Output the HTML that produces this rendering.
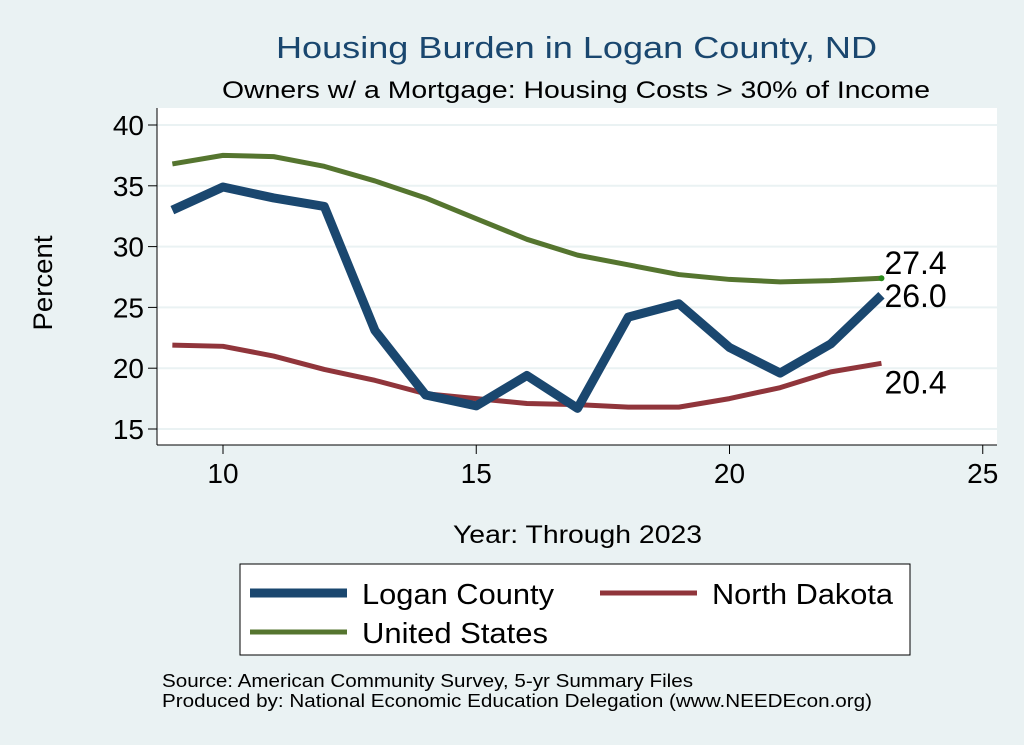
<!DOCTYPE html>
<html><head><meta charset="utf-8">
<style>
body{margin:0;background:#eaf2f3;}
svg{display:block;font-family:"Liberation Sans",Arial,sans-serif;}
</style></head>
<body>
<svg id="chart" width="1024" height="745" viewBox="0 0 1024 745">
<rect x="0" y="0" width="1024" height="745" fill="#eaf2f3"/>
<text x="276" y="58" font-size="31" fill="#1a476f" textLength="601" lengthAdjust="spacingAndGlyphs">Housing Burden in Logan County, ND</text>
<text x="222" y="98" font-size="24" fill="#000" textLength="708" lengthAdjust="spacingAndGlyphs">Owners w/ a Mortgage: Housing Costs &gt; 30% of Income</text>
<rect x="157" y="108" width="840" height="337" fill="#fff"/>
<g id="grid"></g>
<g id="axes"></g>
<g id="series"></g>
<text x="52" y="283" font-size="27" text-anchor="middle" transform="rotate(-90 52 283)" textLength="95" lengthAdjust="spacingAndGlyphs">Percent</text>
<text x="453" y="543" font-size="25" textLength="249" lengthAdjust="spacingAndGlyphs">Year: Through 2023</text>
<g>
<rect x="240" y="564" width="670" height="91" fill="#fff" stroke="#000" stroke-width="1"/>
<g><line x1="250" y1="593" x2="347" y2="593" stroke="#1a476f" stroke-width="9"/><text x="362" y="604" font-size="29" textLength="192" lengthAdjust="spacingAndGlyphs">Logan County</text></g>
<g><line x1="600" y1="593" x2="697" y2="593" stroke="#90353b" stroke-width="5"/><text x="712" y="604" font-size="29" textLength="181" lengthAdjust="spacingAndGlyphs">North Dakota</text></g>
<g><line x1="250" y1="632" x2="347" y2="632" stroke="#55752f" stroke-width="5"/><text x="362" y="643" font-size="29" textLength="186" lengthAdjust="spacingAndGlyphs">United States</text></g>
</g>
<text x="162" y="687" font-size="18" textLength="531" lengthAdjust="spacingAndGlyphs">Source: American Community Survey, 5-yr Summary Files</text>
<text x="162" y="707" font-size="18" textLength="710" lengthAdjust="spacingAndGlyphs">Produced by: National Economic Education Delegation (www.NEEDEcon.org)</text>
</svg>
<script>
const years=[9,10,11,12,13,14,15,16,17,18,19,20,21,22,23];
const logan=[33.0,34.9,34.0,33.3,23.1,17.8,16.9,19.4,16.7,24.2,25.3,21.7,19.6,22.0,26.0];
const northDakota=[21.9,21.8,21.0,19.9,19.0,17.9,17.5,17.1,17.0,16.8,16.8,17.5,18.4,19.7,20.4];
const unitedStates=[36.8,37.5,37.4,36.6,35.4,34.0,32.3,30.6,29.3,28.5,27.7,27.3,27.1,27.2,27.4];
const xTicks=[10,15,20,25];
const yTicks=[15,20,25,30,35,40];
const NS="http://www.w3.org/2000/svg";
const X=v=>223+(v-10)*50.65;
const Y=v=>125+(40-v)*12.16;
function mk(t,a,p){const e=document.createElementNS(NS,t);for(const k in a)e.setAttribute(k,a[k]);p.appendChild(e);return e;}
const grid=document.getElementById('grid'),axes=document.getElementById('axes'),ser=document.getElementById('series');
yTicks.forEach(v=>{
 const g=mk('line',{x1:157,x2:997,y1:Y(v),y2:Y(v),stroke:'#eaf2f3','stroke-width':2},grid);
 
 
 const t=mk('line',{x1:148,x2:157,y1:Y(v),y2:Y(v),stroke:'#000'},axes);
 
 
 const l=mk('text',{x:144,y:Y(v)+10,'font-size':28,'text-anchor':'end'},axes);l.textContent=v;
 
 
});
const ya=mk('line',{x1:157,x2:157,y1:108,y2:445,stroke:'#000'},axes);


const xa=mk('line',{x1:157,x2:997,y1:445,y2:445,stroke:'#000'},axes);


xTicks.forEach(v=>{
 const t=mk('line',{x1:X(v),x2:X(v),y1:445,y2:454,stroke:'#000'},axes);
 
 
 const l=mk('text',{x:X(v),y:483,'font-size':28,'text-anchor':'middle'},axes);l.textContent=v;
 
 
});
function line(vals,color,w,name){
 const d=vals.map((v,i)=>(i?'L':'M')+X(years[i])+','+Y(v)).join(' ');
 const p=mk('path',{d:d,fill:'none',stroke:color,'stroke-width':w,'stroke-linejoin':'round'},ser);
 
 
}
line(unitedStates,'#55752f',5,'line-united-states');
line(northDakota,'#90353b',5,'line-north-dakota');
line(logan,'#1a476f',9,'line-logan-county');
const n=years.length-1;
const dot=mk('circle',{cx:X(years[n]),cy:Y(unitedStates[n]),r:3,fill:'#2a8a1a'},ser);


[[unitedStates,-4,'label-us-end'],[logan,12,'label-logan-end'],[northDakota,30,'label-nd-end']].forEach(([s,dy,nm])=>{
 const t=mk('text',{x:X(years[n])+3,y:Y(s[n])+dy,'font-size':32},ser);t.textContent=s[n].toFixed(1);
 
 
});
</script>
</body></html>
